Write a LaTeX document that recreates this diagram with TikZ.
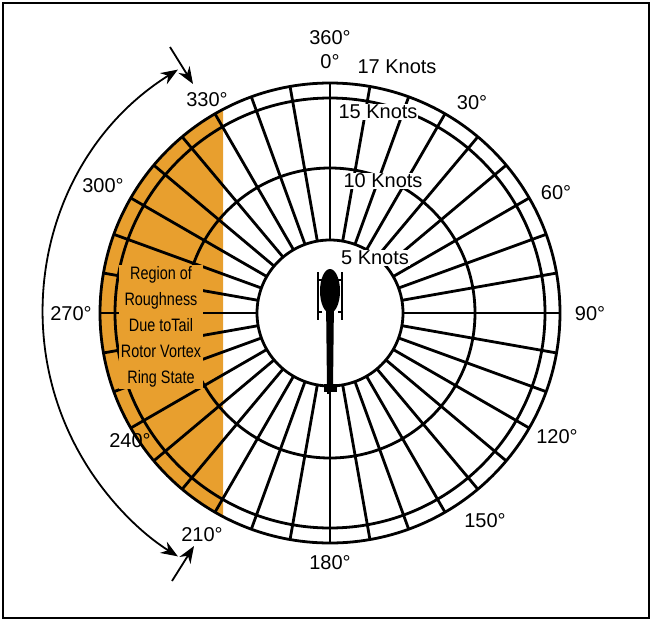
\documentclass[tikz,border=0pt]{standalone}
\usepackage{fontspec}
\setmainfont{Liberation Sans}
\usetikzlibrary{arrows.meta}
\definecolor{rough}{HTML}{E89F2E}
\begin{document}
\begin{tikzpicture}[x=1pt,y=-1pt,line width=2.8pt,
  lab/.style={font=\fontsize{20}{22}\selectfont,inner sep=0pt},
  arr/.style={line width=1.8pt,-{Stealth[length=17pt,width=13pt]}},
  arr2/.style={line width=1.8pt,{Stealth[length=17pt,width=13pt]}-{Stealth[length=17pt,width=13pt]}}]
\useasboundingbox (0,0) rectangle (652,621);
\draw[line width=2.5pt] (3,3) rectangle (649,618);
\coordinate (c) at (330,313);
% orange region
\begin{scope}
\clip (0,0) rectangle (223,621);
\fill[rough] (c) circle[radius=230];
\end{scope}
% radial lines
\foreach \a in {0,10,...,350}{
  \draw (c) ++(\a:73) -- ++(\a:157);
}
\draw (c) circle[radius=230];
\draw (c) circle[radius=215];
\draw (c) circle[radius=145];
\draw[fill=white] (c) circle[radius=73];
% helicopter
\fill (324,384) rectangle (337,392);
\fill (327,372) rectangle (331,394);
\fill (326,300) -- (334,300) -- (333,388) -- (327,388) -- cycle;
\fill (330,291) ellipse[x radius=10,y radius=22];
\draw[line width=1.6pt] (318,272) -- (318,320) (342,272) -- (342,320);
\draw[line width=1.6pt] (318,280) -- (322,280) (318,312) -- (322,312) (342,280) -- (338,280) (342,312) -- (338,312);
% region text
\node[fill=rough,inner sep=2pt,align=center,font=\fontsize{18}{26}\selectfont] (txt) at (161,327)
 {\scalebox{0.8}[1]{Region of}\\\scalebox{0.8}[1]{Roughness}\\\scalebox{0.8}[1]{Due toTail}\\\scalebox{0.8}[1]{Rotor Vortex}\\\scalebox{0.8}[1]{Ring State}};
% knot labels
\node[lab,fill=white,inner sep=1pt] (k17) at (397,67) {17 Knots};
\node[lab,fill=white,inner sep=1pt] (k15) at (378,112) {15 Knots};
\node[lab,fill=white,inner sep=1pt] (k10) at (383,181) {10 Knots};
\node[lab,fill=white,inner sep=1pt] (k5) at (375,258) {5 Knots};
% degree labels
\node[lab] (d360) at (330,38) {360°};
\node[lab] (d0) at (330,62) {0°};
\node[lab] (d30) at (472,103) {30°};
\node[lab] (d60) at (556,193) {60°};
\node[lab] (d90) at (590,314) {90°};
\node[lab] (d120) at (557,437) {120°};
\node[lab] (d150) at (485,521) {150°};
\node[lab] (d180) at (330,563) {180°};
\node[lab] (d210) at (202,535) {210°};
\node[lab] (d240) at (130,441) {240°};
\node[lab] (d270) at (71,314) {270°};
\node[lab] (d300) at (103,186) {300°};
\node[lab] (d330) at (207,100) {330°};
% arrows
\draw[arr2] (c) ++(238:287) arc[start angle=238,end angle=122,radius=287];
\coordinate (t1) at (170,47); \coordinate (t2) at (193,84);
\coordinate (b1) at (172,581); \coordinate (b2) at (194,546);
\draw[arr] (t1) -- (t2);
\draw[arr] (b1) -- (b2);
\end{tikzpicture}
\end{document}
